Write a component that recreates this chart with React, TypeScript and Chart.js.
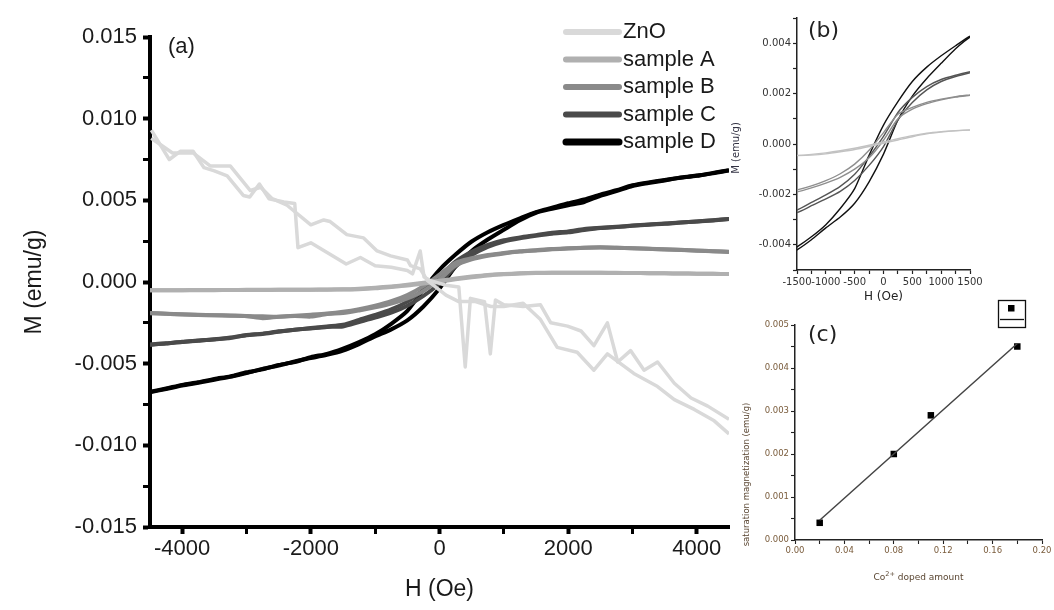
import React, { useEffect, useRef } from 'react';
import { Chart, registerables } from 'chart.js';
Chart.register(...registerables);

// ---------------- data ----------------
const H_FIELD = [-4500, -4250, -4000, -3750, -3500, -3250, -3000, -2750, -2500, -2250, -2000, -1750, -1500, -1250, -1000, -750, -500, -250, 0, 250, 500, 750, 1000, 1250, 1500, 1750, 2000, 2250, 2500, 2750, 3000, 3250, 3500, 3750, 4000, 4250, 4500];

const D_UP = [-0.00672, -0.00652, -0.0063, -0.00614, -0.00593, -0.00578, -0.00553, -0.00535, -0.00508, -0.0049, -0.0046, -0.0044, -0.00408, -0.00368, -0.0032, -0.00256, -0.00177, -0.00045, 0.00075, 0.00168, 0.00248, 0.00305, 0.0035, 0.0039, 0.00428, 0.00455, 0.00482, 0.00505, 0.00535, 0.00562, 0.00592, 0.0061, 0.00625, 0.00638, 0.0065, 0.00668, 0.00685];
const D_DOWN = [-0.00675, -0.00655, -0.00634, -0.00617, -0.00598, -0.0058, -0.00558, -0.00532, -0.00512, -0.00486, -0.00466, -0.00446, -0.0042, -0.0038, -0.00333, -0.0029, -0.00235, -0.0015, -0.0004, 0.00095, 0.0019, 0.0026, 0.0032, 0.00378, 0.00424, 0.00448, 0.0047, 0.0049, 0.00528, 0.00556, 0.00588, 0.00606, 0.00622, 0.0064, 0.00652, 0.00665, 0.00683];

const C_UP = [-0.00382, -0.00375, -0.00368, -0.00358, -0.00352, -0.0034, -0.00324, -0.00316, -0.00302, -0.00292, -0.00282, -0.00272, -0.00262, -0.00232, -0.00202, -0.00168, -0.0012, -0.0005, 0.0003, 0.00125, 0.00185, 0.00228, 0.00256, 0.00273, 0.00287, 0.00302, 0.0031, 0.00325, 0.00332, 0.00338, 0.00346, 0.00352, 0.00358, 0.00365, 0.00371, 0.00378, 0.00386];
const C_DOWN = [-0.00384, -0.00377, -0.00366, -0.0036, -0.0035, -0.00343, -0.00326, -0.00318, -0.00304, -0.00293, -0.00284, -0.00275, -0.00272, -0.00245, -0.00218, -0.00188, -0.00145, -0.00085, -0.0001, 0.00095, 0.00165, 0.00215, 0.00248, 0.00268, 0.00283, 0.00296, 0.00304, 0.00318, 0.0033, 0.00336, 0.00344, 0.00351, 0.00356, 0.00364, 0.0037, 0.00377, 0.00385];

const B_UP = [-0.0019, -0.00194, -0.00197, -0.002, -0.00203, -0.00205, -0.00208, -0.0021, -0.00212, -0.00206, -0.002, -0.00193, -0.00182, -0.00166, -0.00145, -0.00118, -0.0008, -0.00025, 0.00045, 0.00118, 0.00145, 0.00165, 0.00178, 0.00188, 0.00195, 0.00202, 0.00206, 0.0021, 0.00212, 0.0021, 0.00207, 0.00204, 0.002, 0.00197, 0.00193, 0.00189, 0.00185];
const B_DOWN = [-0.00192, -0.00195, -0.00199, -0.00202, -0.00204, -0.00207, -0.00209, -0.00222, -0.00213, -0.00208, -0.00212, -0.00196, -0.0019, -0.00174, -0.00155, -0.00132, -0.001, -0.00055, 0.00015, 0.001, 0.00138, 0.0016, 0.00175, 0.00186, 0.00193, 0.002, 0.00205, 0.00209, 0.00211, 0.00209, 0.00206, 0.00203, 0.00199, 0.00196, 0.00192, 0.00188, 0.00184];

const A_UP = [-0.0005, -0.0005, -0.0005, -0.00049, -0.00049, -0.00049, -0.00048, -0.00048, -0.00048, -0.00047, -0.00047, -0.00046, -0.00045, -0.00041, -0.00035, -0.00027, -0.00017, -0.00005, 0.00008, 0.00021, 0.00033, 0.00043, 0.00049, 0.00053, 0.00056, 0.00057, 0.00057, 0.00057, 0.00056, 0.00056, 0.00055, 0.00054, 0.00053, 0.00052, 0.00051, 0.0005, 0.00049];
const A_DOWN = [-0.00051, -0.00051, -0.0005, -0.0005, -0.0005, -0.00049, -0.00049, -0.00049, -0.00048, -0.00048, -0.00047, -0.00047, -0.00046, -0.00044, -0.00039, -0.00031, -0.00022, -0.0001, 0.00003, 0.00016, 0.00029, 0.0004, 0.00047, 0.00052, 0.00055, 0.00056, 0.00057, 0.00056, 0.00056, 0.00055, 0.00055, 0.00054, 0.00053, 0.00052, 0.00051, 0.0005, 0.00049];

const ZNO_1_H = [-4480, -4200, -4030, -3830, -3660, -3500, -3300, -3050, -2950, -2800, -2650, -2420, -2250, -2200, -2000, -1450, -1230, -1000, -750, -500, -420, -300, -240, -150, 100, 300, 400, 480, 700, 790, 870, 1000, 1300, 1570, 1730, 1990, 2200, 2400, 2610, 2770, 2970, 3180, 3390, 3650, 3910, 4170, 4500];
const ZNO_1_M = [0.0093, 0.0075, 0.008, 0.008, 0.007, 0.0068, 0.0065, 0.0053, 0.0052, 0.006, 0.0051, 0.0049, 0.0048, 0.0021, 0.0024, 0.0011, 0.0015, 0.001, 0.0009, 0.0007, 0.0005, 0.0019, 0.0003, 0.0001, -0.0002, -0.0003, -0.0052, -0.001, -0.0012, -0.0044, -0.0011, -0.0014, -0.0015, -0.0014, -0.0025, -0.0027, -0.003, -0.0039, -0.0025, -0.0049, -0.0042, -0.0054, -0.0049, -0.0062, -0.0071, -0.0076, -0.0084];
const ZNO_2_H = [-4480, -4150, -3830, -3560, -3250, -2940, -2780, -2600, -2370, -2000, -1800, -1700, -1440, -1180, -970, -760, -500, -450, -300, -190, 100, 300, 560, 800, 1000, 1300, 1570, 1830, 2140, 2400, 2610, 3020, 3390, 3650, 3960, 4270, 4500];
const ZNO_2_M = [0.0088, 0.0079, 0.0079, 0.0071, 0.0071, 0.0056, 0.0058, 0.0051, 0.0047, 0.0035, 0.0038, 0.0037, 0.0029, 0.0027, 0.0019, 0.0016, 0.00135, 0.001, 0.0008, 0.0001, -0.0008, -0.0012, -0.0012, -0.0015, -0.0015, -0.0013, -0.0023, -0.004, -0.0043, -0.0054, -0.0044, -0.0056, -0.0064, -0.0072, -0.0078, -0.0085, -0.0093];

const LEGEND_LABELS = ['ZnO', 'sample A', 'sample B', 'sample C', 'sample D'];

const DOPING = [0.02, 0.08, 0.11, 0.18];
const SAT_MAG = [0.0004, 0.002, 0.0029, 0.0045];
const FIT_X = [0.02, 0.18];
const FIT_Y = [0.00046, 0.00457];

// tick values
const A_X_TICKS = [-4000, -3000, -2000, -1000, 0, 1000, 2000, 3000, 4000];
const A_Y_TICKS = [-0.015, -0.0125, -0.01, -0.0075, -0.005, -0.0025, 0, 0.0025, 0.005, 0.0075, 0.01, 0.0125, 0.015];
const B_X_TICKS = [-1500, -1250, -1000, -750, -500, -250, 0, 250, 500, 750, 1000, 1250, 1500];
const B_Y_TICKS = [-0.005, -0.004, -0.003, -0.002, -0.001, 0, 0.001, 0.002, 0.003, 0.004, 0.005];
const C_X_TICKS = [0, 0.02, 0.04, 0.06, 0.08, 0.1, 0.12, 0.14, 0.16, 0.18, 0.2];
const C_Y_TICKS = [0, 0.0005, 0.001, 0.0015, 0.002, 0.0025, 0.003, 0.0035, 0.004, 0.0045, 0.005];

// ---------------- styles ----------------
const FONT_A = '"Liberation Sans", Arial, sans-serif';
const FONT_S = '"DejaVu Sans", sans-serif';
const COLORS_A = ['#d9d9d9', '#b0b0b0', '#8a8a8a', '#4a4a4a', '#000000'];
const COLORS_B = ['#c2c2c2', '#8e8e8e', '#555555', '#111111'];

const pts = (xs: number[], ys: number[]) => xs.map((x, i) => ({ x, y: ys[i] }));
const isMult = (v: number, step: number) => Math.abs(v / step - Math.round(v / step)) < 1e-6;

const SAMPLE_BRANCHES = [
  [A_UP, A_DOWN],
  [B_UP, B_DOWN],
  [C_UP, C_DOWN],
  [D_UP, D_DOWN],
];

function overlay(id: string, draw: (chart: any, ctx: CanvasRenderingContext2D) => void) {
  return {
    id,
    afterDraw(chart: any) {
      const ctx = chart.ctx as CanvasRenderingContext2D;
      ctx.save();
      draw(chart, ctx);
      ctx.restore();
    },
  };
}

function axisCommon(opts: any) {
  return {
    type: 'linear',
    min: opts.min,
    max: opts.max,
    afterBuildTicks: (s: any) => {
      s.ticks = opts.ticks.map((v: number) => ({ value: v }));
    },
    afterFit: opts.fit,
    ticks: {
      autoSkip: false,
      maxRotation: 0,
      minRotation: 0,
      padding: opts.pad,
      color: opts.color,
      font: { family: opts.family, size: opts.size },
      callback: opts.label,
    },
    grid: {
      display: true,
      drawOnChartArea: false,
      drawTicks: true,
      tickLength: opts.tickLength,
      tickColor: opts.lineColor,
      tickWidth: opts.tickWidth,
    },
    border: { display: true, color: opts.lineColor, width: opts.borderWidth },
  };
}

function PanelA() {
  const ref = useRef<HTMLCanvasElement>(null);
  useEffect(() => {
    const datasets: any[] = [];
    [pts(ZNO_1_H, ZNO_1_M), pts(ZNO_2_H, ZNO_2_M)].forEach((d) =>
      datasets.push({ data: d, borderColor: COLORS_A[0], borderWidth: 3.5, pointRadius: 0, tension: 0, borderJoinStyle: 'round' })
    );
    SAMPLE_BRANCHES.forEach((br, si) => {
      br.forEach((ys) =>
        datasets.push({ data: pts(H_FIELD, ys), borderColor: COLORS_A[si + 1], borderWidth: 4, pointRadius: 0, tension: 0.25 })
      );
    });
    const chart = new Chart(ref.current!, {
      type: 'line',
      data: { datasets },
      options: {
        animation: false,
        responsive: false,
        devicePixelRatio: 1,
        events: [],
        layout: { padding: { top: 37, right: 31, left: 0, bottom: 0 } },
        plugins: { legend: { display: false }, tooltip: { enabled: false } },
        scales: {
          x: axisCommon({
            min: -4500, max: 4500, ticks: A_X_TICKS, pad: 2, color: '#1a1a1a', family: FONT_A, size: 22,
            fit: (s: any) => { s.height = 83; },
            label: (v: number) => (isMult(v, 2000) ? String(v) : ''),
            tickLength: 7, lineColor: '#000', borderWidth: 4,
            tickWidth: (c: any) => (c.tick && isMult(c.tick.value, 2000) ? 4 : 3),
          }),
          y: axisCommon({
            min: -0.015, max: 0.015, ticks: A_Y_TICKS, pad: 6, color: '#1a1a1a', family: FONT_A, size: 22,
            fit: (s: any) => { s.width = 150; },
            label: (v: number) => (isMult(v, 0.005) ? v.toFixed(3) : ''),
            tickLength: 7, lineColor: '#000', borderWidth: 4,
            tickWidth: (c: any) => (c.tick && isMult(c.tick.value, 0.005) ? 4 : 3),
          }),
        } as any,
      },
      plugins: [
        overlay('annotA', (chart, ctx) => {
          const ca = chart.chartArea;
          ctx.fillStyle = '#1a1a1a';
          ctx.font = `22px ${FONT_A}`;
          ctx.textBaseline = 'middle';
          ctx.textAlign = 'left';
          ctx.fillText('(a)', ca.left + 18, ca.top + 10);
          ctx.textAlign = 'center';
          ctx.font = `23px ${FONT_A}`;
          ctx.fillText('H (Oe)', (ca.left + ca.right) / 2, 590);
          ctx.save();
          ctx.translate(35, (ca.top + ca.bottom) / 2);
          ctx.rotate(-Math.PI / 2);
          ctx.fillText('M (emu/g)', 0, 0);
          ctx.restore();
          // legend
          ctx.font = `22px ${FONT_A}`;
          ctx.textAlign = 'left';
          LEGEND_LABELS.forEach((lab, i) => {
            const y = 32 + i * 27.5;
            ctx.strokeStyle = COLORS_A[i];
            ctx.lineWidth = i === 4 ? 7 : 6;
            ctx.lineCap = 'round';
            ctx.beginPath();
            ctx.moveTo(566, y);
            ctx.lineTo(619, y);
            ctx.stroke();
            ctx.fillStyle = '#1a1a1a';
            ctx.fillText(lab, 623, y);
          });
        }),
      ],
    });
    return () => chart.destroy();
  }, []);
  return <canvas ref={ref} width={760} height={610} style={{ position: 'absolute', left: 0, top: 0, width: 760, height: 610 }} />;
}

function PanelB() {
  const ref = useRef<HTMLCanvasElement>(null);
  useEffect(() => {
    const datasets: any[] = [];
    SAMPLE_BRANCHES.forEach((br, si) => {
      br.forEach((ys) =>
        datasets.push({ data: pts(H_FIELD, ys), borderColor: COLORS_B[si], borderWidth: 1.4, pointRadius: 0, tension: 0.2 })
      );
    });
    const chart = new Chart(ref.current!, {
      type: 'line',
      data: { datasets },
      options: {
        animation: false,
        responsive: false,
        devicePixelRatio: 1,
        events: [],
        layout: { padding: { top: 18, right: 84, left: 0, bottom: 0 } },
        plugins: { legend: { display: false }, tooltip: { enabled: false } },
        scales: {
          x: axisCommon({
            min: -1500, max: 1500, ticks: B_X_TICKS, pad: 2, color: '#333', family: FONT_S, size: 10,
            fit: (s: any) => { s.height = 40; },
            label: (v: number) => (isMult(v, 500) ? String(v) : ''),
            tickLength: 4, lineColor: '#222', borderWidth: 1.5, tickWidth: 1.2,
          }),
          y: axisCommon({
            min: -0.005, max: 0.005, ticks: B_Y_TICKS, pad: 2, color: '#333', family: FONT_S, size: 10,
            fit: (s: any) => { s.width = 77; },
            label: (v: number) => (isMult(v, 0.002) ? v.toFixed(3) : ''),
            tickLength: 4, lineColor: '#222', borderWidth: 1.5, tickWidth: 1.2,
          }),
        } as any,
      },
      plugins: [
        overlay('annotB', (chart, ctx) => {
          const ca = chart.chartArea;
          ctx.fillStyle = '#222';
          ctx.textBaseline = 'middle';
          ctx.font = `22px ${FONT_S}`;
          ctx.textAlign = 'left';
          ctx.fillText('(b)', ca.left + 11, ca.top + 13);
          ctx.font = `12px ${FONT_S}`;
          ctx.textAlign = 'center';
          ctx.fillText('H (Oe)', (ca.left + ca.right) / 2, 297);
          ctx.save();
          ctx.translate(16, 148);
          ctx.rotate(-Math.PI / 2);
          ctx.font = `10px ${FONT_S}`;
          ctx.fillStyle = '#334';
          ctx.fillText('M (emu/g)', 0, 0);
          ctx.restore();
        }),
      ],
    });
    return () => chart.destroy();
  }, []);
  return <canvas ref={ref} width={334} height={310} style={{ position: 'absolute', left: 720, top: 0, width: 334, height: 310 }} />;
}

function PanelC() {
  const ref = useRef<HTMLCanvasElement>(null);
  useEffect(() => {
    const chart = new Chart(ref.current!, {
      type: 'line',
      data: {
        datasets: [
          { data: pts(FIT_X, FIT_Y), borderColor: '#444', borderWidth: 1.5, pointRadius: 0, tension: 0 } as any,
          {
            data: pts(DOPING, SAT_MAG), showLine: false, pointStyle: 'rect', pointRadius: 4.6,
            backgroundColor: '#000', borderColor: '#000', borderWidth: 0,
          } as any,
        ],
      },
      options: {
        animation: false,
        responsive: false,
        devicePixelRatio: 1,
        events: [],
        layout: { padding: { top: 35, right: 12, left: 0, bottom: 0 } },
        plugins: { legend: { display: false }, tooltip: { enabled: false } },
        scales: {
          x: axisCommon({
            min: 0, max: 0.2, ticks: C_X_TICKS, pad: 2, color: '#7a5c3c', family: FONT_S, size: 8.5,
            fit: (s: any) => { s.height = 70; },
            label: (v: number) => (isMult(v, 0.04) ? v.toFixed(2) : ''),
            tickLength: 4, lineColor: '#222', borderWidth: 1.5, tickWidth: 1.1,
          }),
          y: axisCommon({
            min: 0, max: 0.005, ticks: C_Y_TICKS, pad: 2, color: '#7a5c3c', family: FONT_S, size: 8.5,
            fit: (s: any) => { s.width = 75; },
            label: (v: number) => (isMult(v, 0.001) ? v.toFixed(3) : ''),
            tickLength: 4, lineColor: '#222', borderWidth: 1.5, tickWidth: 1.1,
          }),
        } as any,
      },
      plugins: [
        overlay('annotC', (chart, ctx) => {
          const ca = chart.chartArea;
          ctx.textBaseline = 'middle';
          ctx.fillStyle = '#222';
          ctx.font = `22px ${FONT_S}`;
          ctx.textAlign = 'left';
          ctx.fillText('(c)', ca.left + 13, ca.top + 10);
          // x title with superscript
          const base = `9px ${FONT_S}`;
          const sup = `6.5px ${FONT_S}`;
          const p1 = 'Co', p2 = '2+', p3 = ' doped amount';
          ctx.fillStyle = '#5a4632';
          ctx.font = base;
          const w1 = ctx.measureText(p1).width;
          const w3 = ctx.measureText(p3).width;
          ctx.font = sup;
          const w2 = ctx.measureText(p2).width;
          const total = w1 + w2 + w3;
          const x0 = (ca.left + ca.right) / 2 - total / 2;
          const ty = 288;
          ctx.font = base;
          ctx.fillText(p1, x0, ty);
          ctx.font = sup;
          ctx.fillText(p2, x0 + w1, ty - 4);
          ctx.font = base;
          ctx.fillText(p3, x0 + w1 + w2, ty);
          // y title
          ctx.save();
          ctx.translate(27, (ca.top + ca.bottom) / 2 + 42);
          ctx.rotate(-Math.PI / 2);
          ctx.textAlign = 'center';
          ctx.font = `8.5px ${FONT_S}`;
          ctx.fillStyle = '#5a4632';
          ctx.fillText('saturation magnetization (emu/g)', 0, 0);
          ctx.restore();
          // legend box
          ctx.strokeStyle = '#111';
          ctx.lineWidth = 1.3;
          ctx.strokeRect(278.5, 10.5, 27, 27);
          ctx.fillStyle = '#000';
          ctx.fillRect(288, 15, 6.5, 6.5);
          ctx.beginPath();
          ctx.moveTo(280, 29.5);
          ctx.lineTo(304, 29.5);
          ctx.stroke();
        }),
      ],
    });
    return () => chart.destroy();
  }, []);
  return <canvas ref={ref} width={334} height={320} style={{ position: 'absolute', left: 720, top: 290, width: 334, height: 320 }} />;
}

export default function App() {
  return (
    <div style={{ position: 'absolute', left: 0, top: 0, width: 1054, height: 610, background: '#fff', overflow: 'hidden' }}>
      <PanelA />
      <PanelB />
      <PanelC />
    </div>
  );
}
